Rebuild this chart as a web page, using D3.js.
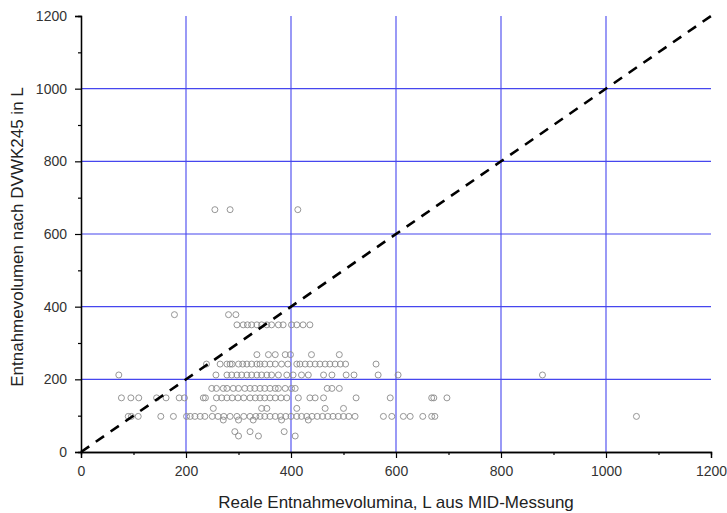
<!DOCTYPE html>
<html>
<head>
<meta charset="utf-8">
<script src="https://cdn.jsdelivr.net/npm/d3@7"></script>
<style>
  body { margin: 0; background: #fff; }
  text { font-family: "Liberation Sans", Arial, sans-serif; }
</style>
</head>
<body>
<div id="container"></div>
<script>
// x-Werte (reale Entnahme, L) je Stufe des DVWK245-Werts
var row44 = [300, 338, 408];
var row56 = [293, 322, 387];
var row88 = [271, 300, 328, 382, 433];
var row98 = [90, 96, 109, 152, 176, 201, 208, 217, 227, 236, 250, 261, 272, 284, 297, 310, 322, 333, 341, 350,
             360, 370, 380, 390, 400, 411, 420, 430, 440, 450, 460, 470, 480, 490, 500, 510, 522,
             576, 592, 614, 627, 651, 668, 674, 1058];
var row120 = [252, 344, 354, 411, 465, 500];
var row149 = [77, 95, 110, 144, 162, 187, 197, 233, 237, 258, 268, 278, 288, 299, 310, 322, 332, 341, 350,
              360, 370, 381, 392, 414, 436, 446, 462, 524, 589, 668, 672, 697];
var row175 = [249, 258, 271, 278, 290, 300, 312, 322, 331, 341, 350, 360, 370, 376, 389, 401, 408, 469, 478, 492];
var row212 = [72, 257, 278, 287, 297, 306, 316, 325, 335, 344, 354, 363, 376, 392, 404, 420, 433, 462, 478,
              505, 520, 566, 604, 879];
var row242 = [239, 265, 278, 284, 288, 300, 308, 316, 325, 335, 341, 350, 360, 370, 382, 394, 411, 417, 427,
              436, 446, 455, 465, 474, 484, 494, 504, 562];
var row268 = [335, 357, 370, 389, 399, 439, 492];
var row350 = [297, 309, 317, 325, 335, 344, 354, 363, 376, 385, 401, 411, 423, 436];
var row378 = [178, 281, 295];
var row667 = [255, 284, 413];

var levels = [44, 56, 88, 98, 120, 149, 175, 212, 242, 268, 350, 378, 667];
var rows = [row44, row56, row88, row98, row120, row149, row175, row212, row242, row268, row350, row378, row667];

var majorTicks = [0, 200, 400, 600, 800, 1000, 1200];
var minorTicks = [100, 300, 500, 700, 900, 1100];
var gridTicks = [200, 400, 600, 800, 1000];
var diagonal = [[0, 0], [1200, 1200]];

var points = [];
rows.forEach(function (r, i) {
    r.forEach(function (xv) { points.push({ x: xv, y: levels[i] }); });
});

var width = 727,
    height = 513;
var margin = { top: 16, right: 16, bottom: 61, left: 81 };

var svg = d3.select("#container").append("svg")
    .attr("width", width)
    .attr("height", height);

var x = d3.scaleLinear().domain([0, 1200]).range([margin.left, width - margin.right]);
var y = d3.scaleLinear().domain([0, 1200]).range([height - margin.bottom, margin.top]);

// Gitterlinien
svg.append("g").selectAll("line.vg").data(gridTicks).enter().append("line")
    .attr("x1", function (d) { return x(d); })
    .attr("x2", function (d) { return x(d); })
    .attr("y1", y(0)).attr("y2", y(1200))
    .attr("stroke", "#4646ee").attr("stroke-width", 1.1);
svg.append("g").selectAll("line.hg").data(gridTicks).enter().append("line")
    .attr("y1", function (d) { return y(d); })
    .attr("y2", function (d) { return y(d); })
    .attr("x1", x(0)).attr("x2", x(1200))
    .attr("stroke", "#4646ee").attr("stroke-width", 1.1);

// Messpunkte
svg.append("g").selectAll("circle").data(points).enter().append("circle")
    .attr("cx", function (d) { return x(d.x); })
    .attr("cy", function (d) { return y(d.y); })
    .attr("r", 3)
    .attr("fill", "none")
    .attr("stroke", "#8a8a8a")
    .attr("stroke-width", 0.9);

// 1:1-Linie
svg.append("path")
    .datum(diagonal)
    .attr("d", d3.line().x(function (d) { return x(d[0]); }).y(function (d) { return y(d[1]); }))
    .attr("stroke", "#000")
    .attr("stroke-width", 2.6)
    .attr("stroke-dasharray", "10,8")
    .attr("fill", "none");

// Achsen
var xAxis = svg.append("g").attr("transform", "translate(0," + y(0) + ")")
    .call(d3.axisBottom(x).tickValues(majorTicks).tickSize(6).tickPadding(8).tickFormat(d3.format("d")));
xAxis.append("g").call(d3.axisBottom(x).tickValues(minorTicks).tickSize(3).tickFormat(""));
var yAxis = svg.append("g").attr("transform", "translate(" + x(0) + ",0)")
    .call(d3.axisLeft(y).tickValues(majorTicks).tickSize(6).tickPadding(8).tickFormat(d3.format("d")));
yAxis.append("g").call(d3.axisLeft(y).tickValues(minorTicks).tickSize(3).tickFormat(""));

svg.selectAll(".domain").attr("stroke", "#000").attr("stroke-width", 1.3);
svg.selectAll(".tick line").attr("stroke", "#000").attr("stroke-width", 1.2);
svg.selectAll(".tick text").attr("font-size", 14).attr("fill", "#333")
    .attr("font-family", "Liberation Sans, Arial, sans-serif");

svg.append("text")
    .attr("x", 396).attr("y", 508)
    .attr("text-anchor", "middle")
    .attr("font-size", 17).attr("fill", "#222")
    .text("Reale Entnahmevolumina, L aus MID-Messung");

svg.append("text")
    .attr("transform", "translate(23,237) rotate(-90)")
    .attr("text-anchor", "middle")
    .attr("font-size", 17).attr("fill", "#222")
    .text("Entnahmevolumen nach DVWK245 in L");
</script>
</body>
</html>
